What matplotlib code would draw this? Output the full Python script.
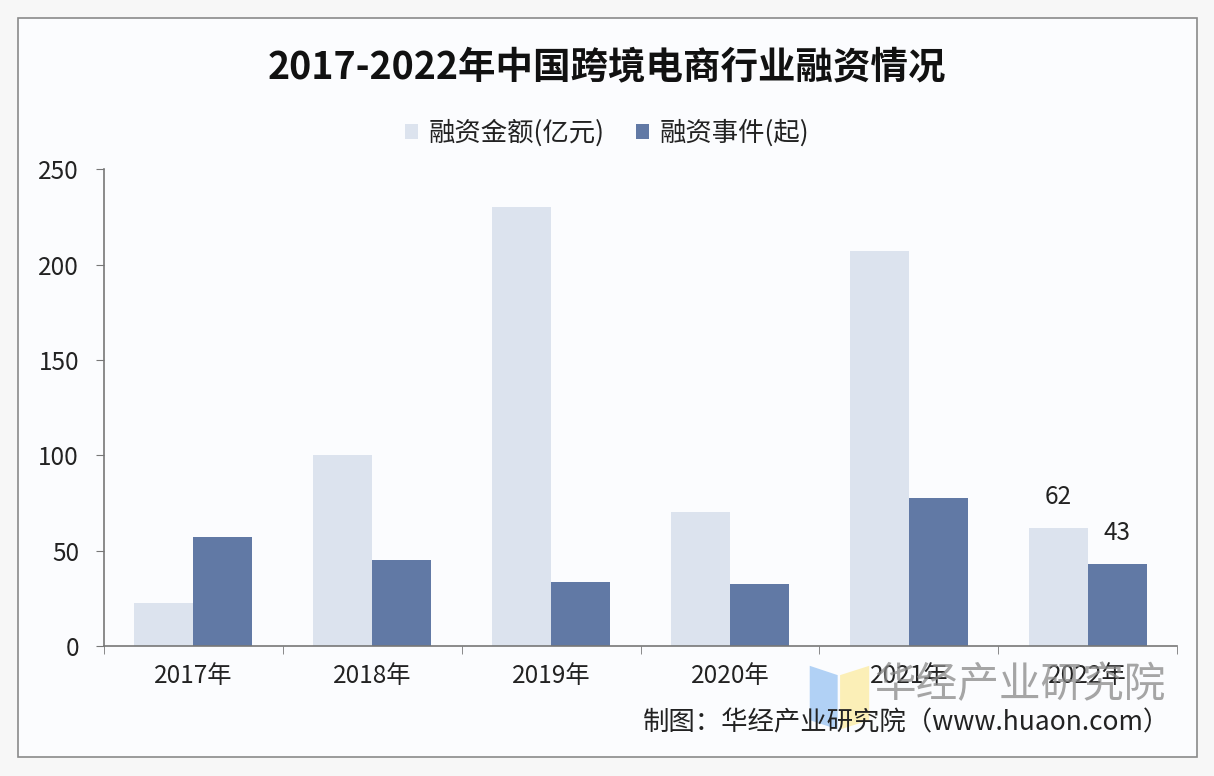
import numpy as np
import matplotlib.pyplot as plt
from matplotlib.patches import Rectangle, Polygon

plt.rcParams['font.family'] = ['Noto Sans CJK SC', 'DejaVu Sans']

# DATA ###############################################################
YEARS = ["2017年", "2018年", "2019年", "2020年", "2021年", "2022年"]
AMOUNT = [22.5, 100, 230, 70.5, 207, 62]      # 融资金额(亿元)
EVENTS = [57, 45, 33.5, 32.5, 77.5, 43]       # 融资事件(起)
LABELS = ["融资金额(亿元)", "融资事件(起)"]

LIGHT = "#dce3ee"
DARK = "#6179a5"

# PLOT ###############################################################
fig = plt.figure(figsize=(12.14, 7.76), dpi=100)
fig.patch.set_facecolor("#f7f7f7")

# chart frame (behind the axes)
frame = Rectangle((0.0148, 0.0245), 0.971, 0.952, transform=fig.transFigure,
                  facecolor="#fbfcfe", edgecolor="#8a8a8a", linewidth=1.2, zorder=-10)
fig.patches.append(frame)

ax = fig.add_axes([0.0857, 0.1675, 0.884, 0.6145])
ax.set_facecolor("none")

x = np.arange(len(YEARS))
width = 0.33
b1 = ax.bar(x - width / 2, AMOUNT, width, color=LIGHT, label=LABELS[0])
b2 = ax.bar(x + width / 2, EVENTS, width, color=DARK, label=LABELS[1])

ax.set_xlim(-0.5, len(YEARS) - 0.5)
ax.set_ylim(0, 250)
ax.set_yticks([0, 50, 100, 150, 200, 250])
ax.set_xticks(x)
ax.set_xticklabels(YEARS)
ax.set_xticks(np.arange(-0.5, len(YEARS)), minor=True)
ax.tick_params(axis='x', which='major', length=0, labelsize=17.5, pad=12, colors="#222222")
ax.tick_params(axis='x', which='minor', length=6, color="#777777")
ax.tick_params(axis='y', length=6, color="#777777", labelsize=17.5, pad=12, labelcolor="#222222")
for s in ["top", "right"]:
    ax.spines[s].set_visible(False)
for s in ["left", "bottom"]:
    ax.spines[s].set_color("#777777")
    ax.spines[s].set_linewidth(1.2)

# value labels on the last year
ax.annotate("{0:.0f}".format(AMOUNT[-1]), xy=(x[-1] - width / 2, AMOUNT[-1]), xytext=(0, 13),
            textcoords="offset points", ha='center', va='bottom', fontsize=17.5, color="#222222")
ax.annotate("{0:.0f}".format(EVENTS[-1]), xy=(x[-1] + width / 2, EVENTS[-1]), xytext=(0, 13),
            textcoords="offset points", ha='center', va='bottom', fontsize=17.5, color="#222222")

fig.text(0.5, 0.914, "2017-2022年中国跨境电商行业融资情况", ha='center', va='center',
         fontsize=27, fontweight='bold', color="#111111")

ax.legend(loc='center', bbox_to_anchor=(0.5, 0.828), bbox_transform=fig.transFigure,
          ncol=2, frameon=False, fontsize=19, handlelength=0.5, handleheight=0.5,
          handletextpad=0.4, columnspacing=1.2, labelcolor="#222222")

# watermark
logo_b = Polygon([[0.667, 0.142], [0.690, 0.130], [0.690, 0.060], [0.667, 0.072]],
                 closed=True, transform=fig.transFigure, facecolor="#a9cdf5", alpha=0.9, zorder=3)
logo_y = Polygon([[0.692, 0.130], [0.716, 0.142], [0.716, 0.072], [0.692, 0.060]],
                 closed=True, transform=fig.transFigure, facecolor="#fbeeb0", alpha=0.9, zorder=3)
fig.patches.extend([logo_b, logo_y])
fig.text(0.840, 0.117, "华经产业研究院", ha='center', va='center', fontsize=30,
         color="#888888", alpha=0.75, zorder=4)
fig.text(0.964, 0.068, "制图：华经产业研究院（www.huaon.com）", ha='right', va='center',
         fontsize=19, color="#222222", zorder=5)

plt.savefig("out.png", dpi=100, facecolor=fig.get_facecolor())
